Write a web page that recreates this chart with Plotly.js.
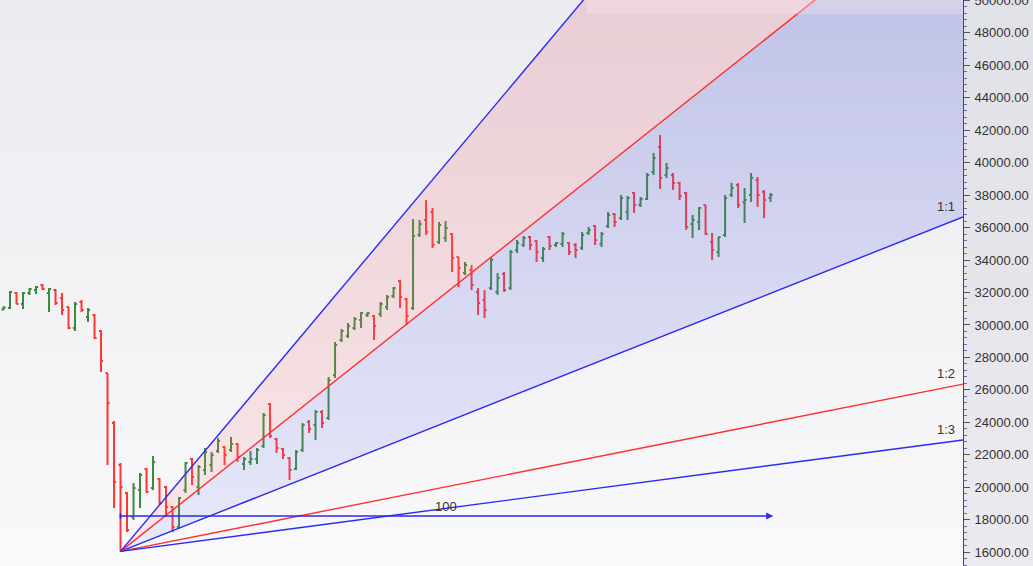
<!DOCTYPE html>
<html><head><meta charset="utf-8">
<script src="https://cdn.plot.ly/plotly-3.0.1.min.js"></script>
<style>
html,body{margin:0;padding:0;}
#chart{width:1033px;height:566px;background:linear-gradient(to bottom,#ebecf0 0%,#f2f2f5 50%,#f9f9fb 100%);}
</style></head><body><div id="chart"></div>
<script>
// OHLC price bars (one per session, left to right)
const open  = [30950,31045,31970,31291,31970,32154,32462,31970,32154,31661,31107,29813,31415,30490,30614,29628,27042,23961,21374,19649,18171,19834,21128,19957,20512,20018,18787,17555,19834,21744,20018,21066,21374,22236,22483,22298,22668,21435,21559,21744,22544,25131,22976,22360,21805,21128,22298,24023,23838,24638,24269,26918,29074,29320,29813,30306,30614,30552,30676,31107,31784,32709,31600,31045,35542,36466,36959,35111,35357,35604,34187,33201,33386,32031,31538,32277,32031,33139,32277,34618,34926,35419,35172,34126,35419,34926,34988,35049,34926,34741,35665,36096,34988,36096,36836,36589,36959,38129,37390,37760,39422,40963,39238,39238,38745,38129,36220,36343,37390,35111,34495,35542,38006,38622,37560,38006,38930,38190,37821];
const high  = [31150,32092,32031,32031,32277,32400,32523,32277,32216,31970,31107,31415,31538,31045,30676,29690,27042,24084,21497,19711,20265,20882,21190,21928,20573,20080,18848,19403,21559,21805,21374,22421,22174,23037,22544,23099,22729,21867,22236,22421,24577,25193,23037,22421,21867,22298,23961,24146,24762,24762,26795,28951,29752,30121,30490,30799,30799,30614,31415,31846,32339,32770,31661,36528,36466,37698,37205,36343,36404,35665,34187,33879,33694,32277,32154,34187,33201,33263,34618,35234,35480,35480,35234,34803,35480,35111,35727,35111,35049,35727,36034,36158,35727,36959,36897,38006,37945,38190,37883,39361,40593,41702,39977,39361,38807,38190,36774,37266,37390,35665,35419,38006,38745,38745,38437,39361,39115,38314,38129];
const low   = [30900,30984,31291,30984,31846,31908,32154,30799,31230,30614,29752,29628,30799,30182,29136,27106,21378,18725,16040,17247,17986,18725,19649,19834,18910,18171,17247,17493,19649,20142,19526,20758,20942,22113,21374,22174,21559,21066,21374,21435,22421,23037,22113,21744,20450,21066,22174,23345,22914,23653,24146,26733,28951,29197,29690,29813,30490,29074,30490,30922,31661,31045,29998,30922,35419,35542,34741,34988,35111,33263,32339,33078,32154,30614,30429,32154,31846,32031,32154,34433,34803,34618,33879,33879,34618,34803,34803,34310,34126,34618,35542,34926,34803,35973,36034,36466,36466,36897,37266,37698,39238,38376,39053,38314,37698,35850,35357,35850,35542,34002,34187,35419,37882,37205,36281,37575,37266,36589,37575];
const close = [31080,32031,31291,31970,32216,32339,32216,32216,31353,30922,29813,31291,30922,30922,29197,27780,25193,20327,20018,17370,19957,20758,19711,21559,19033,18787,17555,19341,21497,20635,21251,22174,21990,22852,21990,22668,21867,21744,21744,22298,24454,23160,22421,21990,21066,22174,23838,23592,24638,23961,26610,28766,29628,29936,30367,30737,30737,29936,31291,31723,32277,31723,30552,35480,36220,35727,34926,36158,35973,34126,33509,33694,32462,31353,30922,34002,32894,32154,34495,35049,35357,34926,34495,34680,34864,35049,35604,34495,34618,35542,35850,35234,35604,36774,36343,37821,37821,37390,37760,39238,40285,39053,39669,38745,37944,36034,36466,37205,35604,34618,35419,37821,38437,37390,37700,39053,38006,37698,38006];

// Gann fan: origin bar, origin price, 1x1 unit (price per bar), angles
const fanOriginBar = 18;
const fanOriginPrice = 16050;
const fanUnit = 159;
const fanRatios = [3, 2, 1, 1/2, 1/3];
const fanLabels = ['3:1', '2:1', '1:1', '1:2', '1:3'];
const fanColors = ['#2a2af0', '#ff2f2f', '#2a2af0', '#ff2f2f', '#2a2af0'];

// bar-count measurement arrow
const measureBars = 100;
const measurePrice = 18230;
const measureLabel = '100';

// price axis ticks
const yRange = [15152, 50018];
const yTickStep = 2000;
const xRange = [-0.54, 147.6];

const xs = open.map((_, i) => i);
const xEnd = xRange[1];
const fanY = r => fanOriginPrice + r * fanUnit * (xEnd - fanOriginBar);

function fanTrace(k, extra) {
  return Object.assign({
    type: 'scatter', mode: 'lines', hoverinfo: 'skip',
    x: [fanOriginBar, xEnd], y: [fanOriginPrice, fanY(fanRatios[k])],
    line: {color: fanColors[k], width: 1.4}
  }, extra || {});
}

const traces = [
  fanTrace(2),
  fanTrace(1, {fill: 'tonexty', fillcolor: 'rgba(95,100,225,0.2)',
    fillgradient: {type: 'vertical', start: 16000, stop: 50000,
      colorscale: [[0, 'rgba(120,125,240,0.13)'], [1, 'rgba(85,90,210,0.28)']]}}),
  fanTrace(0, {fill: 'tonexty', fillcolor: 'rgba(245,100,110,0.18)',
    fillgradient: {type: 'vertical', start: 16000, stop: 50000,
      colorscale: [[0, 'rgba(255,120,120,0.14)'], [1, 'rgba(225,95,115,0.22)']]}}),
  fanTrace(3),
  fanTrace(4),
  {
    type: 'ohlc', x: xs, open: open, high: high, low: low, close: close,
    increasing: {line: {color: '#3a8a3a', width: 2}},
    decreasing: {line: {color: '#ff3535', width: 2}},
    tickwidth: 0.32, hoverinfo: 'skip'
  }
];

const labelFont = {family: 'Liberation Sans, Arial, sans-serif', size: 13, color: '#333'};
const annotations = [2, 3, 4].map(k => ({
  x: xEnd, y: fanY(fanRatios[k]), xref: 'x', yref: 'y',
  text: fanLabels[k], showarrow: false, xanchor: 'right', yanchor: 'bottom',
  xshift: -6, yshift: 1, font: labelFont
}));
annotations.push({
  x: fanOriginBar + measureBars + 0.4, y: measurePrice,
  ax: fanOriginBar - 0.4, ay: measurePrice, xref: 'x', yref: 'y', axref: 'x', ayref: 'y',
  text: '', showarrow: true, arrowhead: 2, arrowsize: 1, arrowwidth: 1.4, arrowcolor: '#2a2af0', standoff: 0
});
annotations.push({
  x: fanOriginBar + measureBars / 2, y: measurePrice, xref: 'x', yref: 'y',
  text: measureLabel, showarrow: false, yanchor: 'bottom', yshift: 0, font: labelFont
});

// where the 3:1 line leaves the top of the chart
const topBar31 = fanOriginBar + (yRange[1] - fanOriginPrice) / (fanRatios[0] * fanUnit);

const layout = {
  width: 1033, height: 566,
  margin: {l: 0, r: 70, t: 0, b: 0, pad: 0},
  paper_bgcolor: 'rgba(0,0,0,0)', plot_bgcolor: 'rgba(0,0,0,0)',
  showlegend: false, hovermode: false,
  xaxis: {range: xRange, visible: false, rangeslider: {visible: false}, fixedrange: true},
  yaxis: {
    side: 'right', range: yRange, tick0: 0, dtick: yTickStep, tickformat: '.2f',
    showgrid: false, zeroline: false, showline: true, linecolor: '#3d3dab', linewidth: 1,
    ticks: 'outside', ticklen: 6, tickcolor: '#555', tickwidth: 1,
    minor: {dtick: yTickStep / 5, ticks: 'outside', ticklen: 3, tickcolor: '#6a6ab0', showgrid: false},
    tickfont: {family: 'Liberation Sans, Arial, sans-serif', size: 13, color: '#333'},
    ticklabelstandoff: 2, ticklabeloverflow: 'allow', fixedrange: true
  },
  shapes: [
    {type: 'rect', xref: 'paper', yref: 'paper', x0: 1, x1: 1.08, y0: 0, y1: 1,
     fillcolor: 'rgba(205,207,218,0.35)', line: {width: 0}, layer: 'below'},
    {type: 'rect', xref: 'x', yref: 'y', x0: topBar31 + 0.5, x1: xEnd, y0: yRange[1] - 870, y1: yRange[1],
     fillcolor: 'rgba(250,232,240,0.35)', line: {width: 0}, layer: 'above'},
    {type: 'line', xref: 'x', yref: 'y', x0: fanOriginBar, x1: fanOriginBar,
     y0: measurePrice - 180, y1: measurePrice + 180, line: {color: '#2a2af0', width: 1.4}}
  ],
  annotations: annotations
};

Plotly.newPlot('chart', traces, layout, {staticPlot: true, displayModeBar: false});
</script></body></html>
